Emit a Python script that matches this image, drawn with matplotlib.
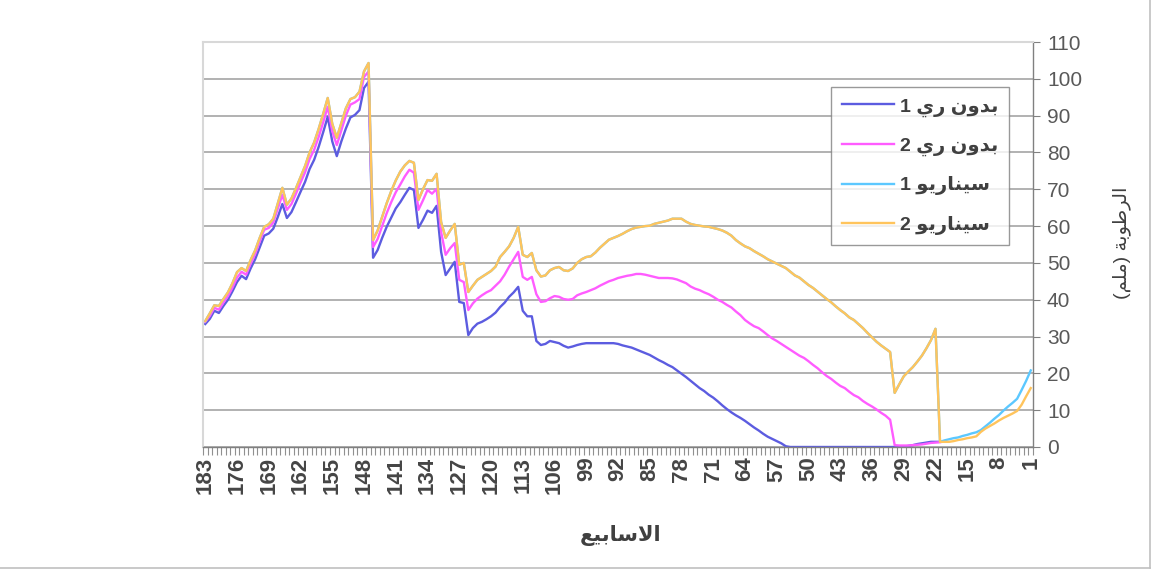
import matplotlib
matplotlib.use('Agg')
import matplotlib.pyplot as plt
import numpy as np
from matplotlib.lines import Line2D

plt.rcParams['font.family'] = ['Liberation Sans', 'DejaVu Sans']

nan = float('nan')

# weeks run from 183 (left) down to 1 (right)
weeks = list(range(183, 0, -1))
tick_weeks = list(range(183, 0, -7))

# Arabic text written in presentation forms, visual order
name_bedun1 = "1 \uFEF1\uFEAD \uFEE5\uFEED\uFEAA\uFE91"          # بدون ري 1
name_bedun2 = "2 \uFEF1\uFEAD \uFEE5\uFEED\uFEAA\uFE91"          # بدون ري 2
name_scen1 = "1 \uFEEE\uFEF3\uFEAD\uFE8E\uFEE8\uFEF4\uFEB3"      # سيناريو 1
name_scen2 = "2 \uFEEE\uFEF3\uFEAD\uFE8E\uFEE8\uFEF4\uFEB3"      # سيناريو 2
xlabel_text = "\uFECA\uFEF4\uFE91\uFE8E\uFEB3\uFEFB\uFE8D"        # الاسابيع
ylabel_text = "(\uFEE2\uFEE0\uFEE3) \uFE94\uFE91\uFEEE\uFEC3\uFEAE\uFEDF\uFE8D"  # الرطوبة (ملم)

# بدون ري 1
bedun1 = [33.4, 34.8, 37.0, 36.4, 38.3, 40.0, 42.3, 44.8, 46.5, 45.6,
          48.5, 51.0, 54.2, 57.4, 58.0, 59.3, 62.5, 66.0, 62.2, 63.8,
          66.5, 69.3, 72.0, 75.5, 78.0, 81.5, 85.5, 89.7, 83.0, 79.0,
          83.0, 86.5, 89.5, 90.2, 91.5, 97.5, 99.2,
          51.4, 53.5, 56.8, 59.8, 62.3, 64.8, 66.5, 68.5, 70.4, 69.8,
          59.5, 61.7, 64.2, 63.6, 65.5, 53.0, 46.7, 48.5, 50.3, 39.4,
          39.1, 30.4,
          32.3, 33.5, 34.0, 34.7, 35.5, 36.5, 38.0, 39.2, 40.8, 42.0,
          43.5, 37.0, 35.5, 35.5, 28.8, 27.7, 28.0, 28.8, 28.5, 28.2,
          27.5, 27.0, 27.3, 27.7, 28.0, 28.2, 28.2, 28.2,
          28.2, 28.2, 28.2, 28.2, 28.0, 27.6, 27.3, 27.0, 26.5, 26.0,
          25.5, 25.0, 24.3, 23.6, 23.0, 22.3, 21.7, 20.8, 19.9, 19.0,
          18.0, 17.0, 16.0, 15.2, 14.2, 13.4, 12.4, 11.3, 10.3, 9.4,
          8.6, 7.9, 7.1, 6.2, 5.3, 4.5, 3.6, 2.8, 2.2, 1.6,
          1.0, 0.2,
          0, 0, 0, 0, 0, 0, 0, 0, 0, 0, 0, 0,
          0, 0, 0, 0, 0, 0, 0, 0, 0, 0, 0, 0,
          0.0, 0.1, 0.3, 0.5, 0.8, 1.0, 1.2, 1.4, 1.4, 1.4,
          nan, nan, nan, nan, nan, nan, nan, nan, nan, nan,
          nan, nan, nan, nan, nan, nan, nan, nan, nan, nan]

# بدون ري 2
bedun2 = [34.0, 35.6, 37.8, 37.3, 39.2, 41.0, 43.3, 46.0, 47.6, 46.8,
          49.8, 52.4, 55.8, 59.0, 59.5, 61.0, 64.8, 68.5, 64.4, 66.0,
          68.8, 71.8, 74.6, 78.2, 80.7, 84.2, 88.2, 92.4, 85.8, 82.0,
          86.0, 90.0, 93.0, 93.6, 94.5, 100.5, 102.0,
          54.3, 56.5, 60.0, 63.5, 66.5, 69.2, 71.3, 73.5, 75.3, 74.5,
          64.4, 67.0, 69.8, 68.8, 70.1, 58.4, 52.2, 54.0, 55.4, 45.4,
          44.8, 37.2,
          39.0, 40.3, 41.2, 42.0, 42.6, 43.8, 45.0, 46.8, 49.0, 51.0,
          53.0, 46.2, 45.4, 46.2, 41.5, 39.4, 39.6, 40.4, 41.0, 40.8,
          40.2, 40.0, 40.2, 41.2, 41.7, 42.1, 42.6, 43.1,
          43.8, 44.4, 45.0, 45.4, 45.9, 46.2, 46.5, 46.7, 47.0, 47.0,
          46.8, 46.5, 46.2, 45.9, 45.9, 45.9, 45.8, 45.5, 45.0, 44.5,
          43.6, 43.0, 42.6, 42.0, 41.5, 40.8, 40.0, 39.4, 38.6, 37.9,
          36.8, 35.8, 34.5, 33.6, 32.8, 32.3, 31.4, 30.4, 29.5, 28.8,
          28.0, 27.2,
          26.4, 25.6, 24.8, 24.2, 23.3, 22.3, 21.4, 20.3, 19.3, 18.5,
          17.5, 16.6, 16.0, 15.0, 14.1, 13.5, 12.5, 11.7, 11.0, 10.2,
          9.3, 8.5, 7.4, 0.5,
          0.4, 0.4, 0.4, 0.5, 0.6, 0.7, 0.9, 1.1, 1.2, 1.3,
          nan, nan, nan, nan, nan, nan, nan, nan, nan, nan,
          nan, nan, nan, nan, nan, nan, nan, nan, nan, nan]

# سيناريو 2
scen2 = [34.2, 36.3, 38.5, 38.3, 40.2, 42.0, 44.5, 47.5, 48.6, 47.8,
         50.8, 53.4, 56.8, 59.8, 60.5, 62.0, 66.2, 70.4, 65.8, 67.5,
         70.3, 73.3, 76.3, 80.0, 82.7, 86.4, 90.5, 94.8, 87.8, 84.0,
         88.0, 92.0, 94.5, 95.0, 96.5, 102.0, 104.3,
         56.2, 58.8, 62.5, 66.2, 69.5, 72.4, 74.8, 76.5, 77.7, 77.2,
         67.1, 70.0, 72.5, 72.3, 74.2, 61.1, 56.8, 58.8, 60.6, 49.5,
         50.0, 42.1,
         43.8, 45.4, 46.2, 47.0, 47.8, 49.0, 51.6, 53.0, 54.5, 56.8,
         59.8, 52.2, 51.6, 52.7, 48.0, 46.3, 46.6, 48.0, 48.6, 48.9,
         48.0, 47.8, 48.5, 50.0, 51.0, 51.6, 51.8, 52.8,
         54.1, 55.2, 56.3, 56.8, 57.3, 57.9, 58.6, 59.2, 59.6, 59.8,
         60.0, 60.1, 60.6, 60.9, 61.2, 61.5, 62.0, 62.0, 62.0, 61.2,
         60.6, 60.3, 60.1, 59.9, 59.8, 59.5, 59.2, 58.8, 58.2, 57.4,
         56.2, 55.3, 54.5, 54.0, 53.2, 52.5, 51.8, 51.0, 50.4, 49.8,
         49.2, 48.6,
         47.6, 46.6, 46.0, 45.0, 44.0, 43.2, 42.2, 41.2, 40.2, 39.3,
         38.2, 37.2, 36.3, 35.2, 34.5, 33.4, 32.3, 31.0, 29.8, 28.6,
         27.6, 26.7, 25.8, 14.7,
         17.0, 19.2, 20.5, 21.7, 23.2, 24.8, 26.8, 29.0, 32.1, 1.4,
         1.4, 1.4, 1.6, 1.9, 2.1, 2.4, 2.6, 2.9, 4.1, 5.0,
         5.7, 6.4, 7.2, 7.9, 8.5, 9.1, 9.8, 11.5, 13.8, 16.0]

# سيناريو 1: same as سيناريو 2 up to week 22, then its own values (weeks 21..1)
scen1_tail = [1.4, 1.8, 2.1, 2.4, 2.6, 3.0, 3.3, 3.7, 4.0, 4.6, 5.6,
              6.6, 7.7, 8.7, 9.9, 11.0, 12.0, 13.1, 15.5, 18.0, 20.8]
scen1 = scen2[:162] + scen1_tail

series = [(bedun1, name_bedun1, '#5c5ce0'),
          (bedun2, name_bedun2, '#ff5cff'),
          (scen1, name_scen1, '#5cc8ff'),
          (scen2, name_scen2, '#ffc45c')]

fig = plt.figure(figsize=(11.53, 5.71), dpi=100)
ax = fig.add_axes([203/1153, 1-447/571, 830/1153, 405/571])

for vals, name, color in series:
    ax.plot(weeks, vals, color=color, lw=1.7, label=name)

ax.set_xlim(183.5, 0.5)
ax.set_ylim(0, 110)

ax.yaxis.tick_right()
ax.set_yticks(range(0, 111, 10))
ax.grid(axis='y', color='#9c9c9c', lw=1.1)
ax.set_axisbelow(True)
ax.tick_params(axis='y', length=5, color='#808080', labelsize=15,
               labelcolor='#595959', pad=5)

ax.set_xticks(tick_weeks)
ax.set_xticklabels([str(w) for w in tick_weeks], rotation=90,
                   fontweight='bold', fontsize=16, color='#454545')
ax.set_xticks(np.arange(0.5, 184, 1), minor=True)
ax.tick_params(axis='x', which='major', length=0, pad=7)
ax.tick_params(axis='x', which='minor', length=6, color='#909090', width=0.8)

for side in ['top', 'left']:
    ax.spines[side].set_color('#d8d8d8')
    ax.spines[side].set_linewidth(1.5)
for side in ['right', 'bottom']:
    ax.spines[side].set_color('#808080')
    ax.spines[side].set_linewidth(1.0)

leg = ax.legend(loc='upper left', bbox_to_anchor=(831/1153, 1-87/571),
                bbox_transform=fig.transFigure, frameon=True, fancybox=False,
                edgecolor='#808080', handlelength=2.7, labelspacing=1.05,
                borderpad=0.55, handletextpad=0.3, borderaxespad=0,
                prop={'weight': 'bold', 'size': 14})
leg.get_frame().set_linewidth(1.0)
for t in leg.get_texts():
    t.set_color('#404040')

fig.text(621/1153, 1-536/571, xlabel_text, ha='center', va='center',
         fontsize=15, fontweight='bold', color='#404040')
fig.text(1122/1153, 1-243/571, ylabel_text, ha='center', va='center',
         rotation=90, fontsize=14, color='#404040')

# chart area border (right and bottom edges visible)
fig.add_artist(Line2D([1150/1153, 1150/1153], [3/571, 1], color='#c0c0c0', lw=1.2))
fig.add_artist(Line2D([0, 1150/1153], [3/571, 3/571], color='#c0c0c0', lw=1.2))

fig.savefig('out.png', dpi=100)
